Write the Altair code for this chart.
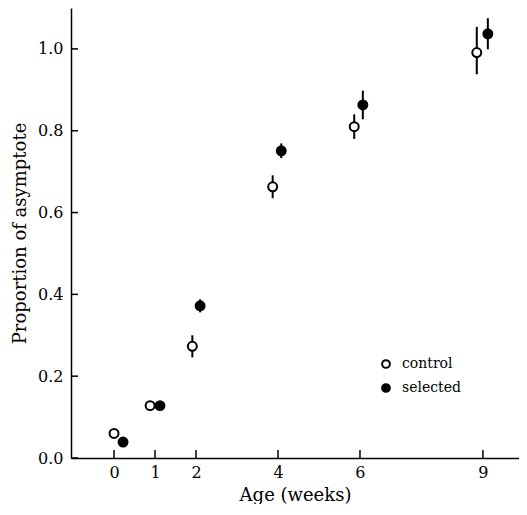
import altair as alt
import pandas as pd

groups = ["control", "selected"]
control_age = [0.0, 0.88, 1.91, 3.87, 5.86, 8.85]
control_prop = [0.060, 0.128, 0.273, 0.663, 0.810, 0.991]
control_err_lo = [0.0, 0.010, 0.027, 0.028, 0.030, 0.053]
control_err_hi = [0.0, 0.010, 0.027, 0.028, 0.030, 0.063]
selected_age = [0.22, 1.12, 2.10, 4.08, 6.07, 9.12]
selected_prop = [0.039, 0.128, 0.372, 0.751, 0.863, 1.037]
selected_err_lo = [0.0, 0.008, 0.016, 0.018, 0.035, 0.038]
selected_err_hi = [0.0, 0.008, 0.016, 0.018, 0.035, 0.038]
x_ticks = [0, 1, 2, 4, 6, 9]
y_ticks = [0.0, 0.2, 0.4, 0.6, 0.8, 1.0]

rows = []
for g, ages, props, lo, hi in [
    ("control", control_age, control_prop, control_err_lo, control_err_hi),
    ("selected", selected_age, selected_prop, selected_err_lo, selected_err_hi),
]:
    for a, p, l, h in zip(ages, props, lo, hi):
        rows.append({"group": g, "age": a, "prop": p, "lo": p - l, "hi": p + h})
df = pd.DataFrame(rows)
xt = pd.DataFrame({"tick": x_ticks})
yt = pd.DataFrame({"tick": y_ticks})

FONT = "DejaVu Serif"
xscale = alt.Scale(domain=[-1.05, 9.88], nice=False, zero=False)
yscale = alt.Scale(domain=[0, 1.1], nice=False)
xaxis = alt.Axis(values=x_ticks, title="Age (weeks)", ticks=False, labelPadding=6,
                 titlePadding=6, grid=False, format="d")
yaxis = alt.Axis(values=y_ticks, title="Proportion of asymptote", ticks=False,
                 labelPadding=8, titlePadding=8, grid=False, format=".1f")

err = alt.Chart(df).mark_rule(color="black", strokeWidth=2).encode(
    x=alt.X("age:Q", scale=xscale, axis=xaxis),
    y=alt.Y("lo:Q", scale=yscale, axis=yaxis),
    y2="hi:Q",
)

pts = alt.Chart(df).mark_point(filled=False, stroke="black", strokeWidth=2,
                               size=80, shape="circle", opacity=1).encode(
    x=alt.X("age:Q", scale=xscale, axis=xaxis),
    y=alt.Y("prop:Q", scale=yscale, axis=yaxis),
    fill=alt.Fill("group:N", scale=alt.Scale(domain=groups, range=["white", "black"]),
                  legend=alt.Legend(orient="none", legendX=308, legendY=349, title=None,
                                    symbolStrokeColor="black", symbolStrokeWidth=2,
                                    symbolSize=60, symbolType="circle",
                                    labelFont=FONT, labelFontSize=14, rowPadding=8,
                                    labelOffset=9)),
)

xticks = alt.Chart(xt).mark_rule(color="black", strokeWidth=1.5).encode(
    x=alt.X("tick:Q", scale=xscale, axis=xaxis),
    y=alt.value(450),
    y2=alt.value(442),
)
yticks = alt.Chart(yt).mark_rule(color="black", strokeWidth=1.5).encode(
    y=alt.Y("tick:Q", scale=yscale, axis=yaxis),
    x=alt.value(0),
    x2=alt.value(7),
)

chart = alt.layer(err, xticks, yticks, pts).properties(
    width=448, height=450, padding={"left": 3, "top": 0, "right": 0, "bottom": 0}
).configure_view(stroke=None).configure_axis(
    domainColor="black", domainWidth=1.5, labelFont=FONT, titleFont=FONT,
    labelFontSize=16, titleFontSize=18, labelColor="black", titleColor="black",
    titleFontWeight="normal"
)

chart.save("out.html", embed_options={"renderer": "svg", "actions": False})
